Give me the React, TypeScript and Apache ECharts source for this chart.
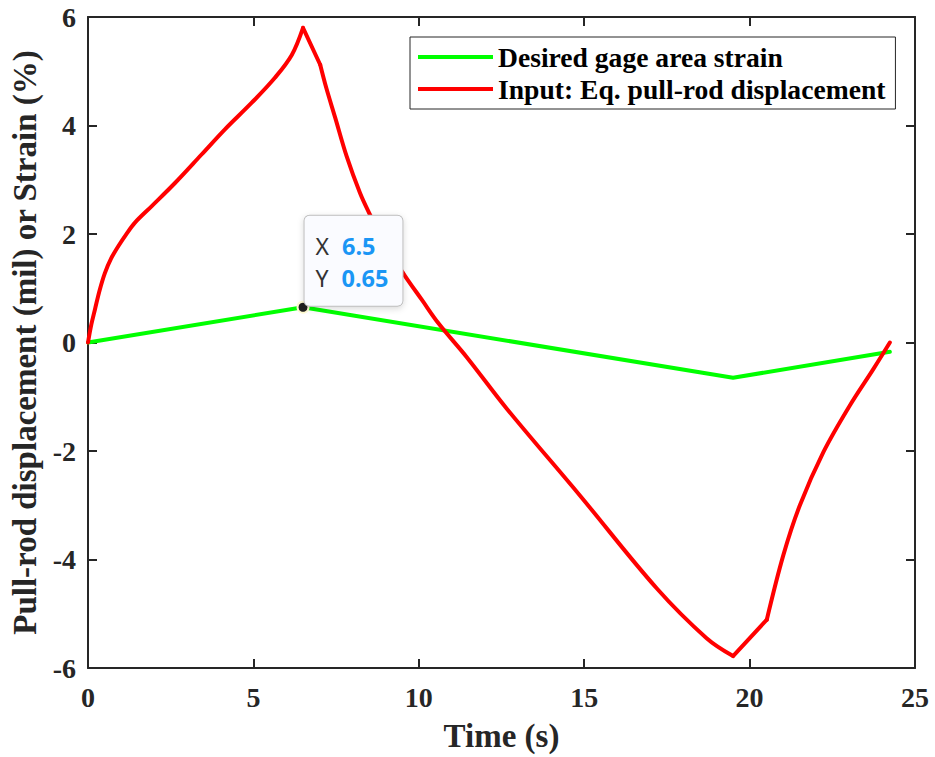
import React, { useEffect, useRef } from 'react';
import * as echarts from 'echarts';

// Desired gage area strain (green)
const strainTime = [0, 6.5, 19.5, 24.24];
const strainValue = [0, 0.65, -0.65, -0.17];

// Input: Eq. pull-rod displacement (red)
const dispTime = [
  0, 0.1, 0.21, 0.35, 0.51, 0.7, 0.92, 1.15, 1.42, 1.92, 2.63, 3.44, 4.14, 4.95, 5.65, 6.16, 6.5,
  7.02, 7.2, 7.47, 7.82, 8.22, 8.52, 9.0, 9.58, 10.1, 10.6, 11.45, 12.66, 14.87, 17.19, 18.7, 19.5,
  20.52, 21.02, 21.52, 22.23, 23.03, 23.74, 24.24,
];
const dispValue = [
  0, 0.33, 0.61, 0.96, 1.28, 1.55, 1.78, 1.99, 2.21, 2.51, 2.94, 3.47, 3.93, 4.42, 4.88, 5.3, 5.8,
  5.12, 4.7, 4.15, 3.43, 2.76, 2.36, 1.77, 1.23, 0.78, 0.35, -0.27, -1.22, -2.82, -4.53, -5.45, -5.78,
  -5.11, -3.92, -3.0, -2.02, -1.16, -0.49, 0,
];
// Times at which the displacement history has sharp corners
const dispCorners = [6.5, 7.02, 19.5, 20.52];

// Data tip
const tipPoint = [6.5, 0.65];

// Axes
const xMin = 0, xMax = 25, xStep = 5;
const yMin = -6, yMax = 6, yStep = 2;

const seriesNames = ['Desired gage area strain', 'Input: Eq. pull-rod displacement'];

export default function App() {
  const ref = useRef<HTMLDivElement>(null);
  useEffect(() => {
    const chart = echarts.init(ref.current!, null, { renderer: 'svg' });
    const serif = 'Liberation Serif';
    const axisColor = '#262626';
    const zip = (xs: number[], ys: number[]) => xs.map((x, i) => [x, ys[i]]);

    const axisLine = { show: true, onZero: false, lineStyle: { color: axisColor, width: 2 } };
    const axisTick = { show: true, inside: true, length: 9, lineStyle: { color: axisColor, width: 2 } };
    const labelStyle = { fontFamily: serif, fontWeight: 'bold', fontSize: 28, color: axisColor };
    const nameStyle = { fontFamily: serif, fontWeight: 'bold', fontSize: 33, color: axisColor };
    const xBase = { type: 'value', min: xMin, max: xMax, interval: xStep, splitLine: { show: false }, axisLine, axisTick };
    const yBase = { type: 'value', min: yMin, max: yMax, interval: yStep, splitLine: { show: false }, axisLine, axisTick };

    // split the red history at its corners: smooth pieces between, straight pieces at kinks
    const redPts = zip(dispTime, dispValue);
    const cornerIdx = dispCorners.map((t) => dispTime.indexOf(t));
    const bounds = [0, ...cornerIdx, dispTime.length - 1];
    const redSeries = bounds.slice(0, -1).map((b, k) => {
      const seg = redPts.slice(b, bounds[k + 1] + 1);
      return {
        name: seriesNames[1],
        type: 'line',
        data: seg,
        symbol: 'none',
        smooth: seg.length > 2 ? 0.35 : false,
        color: '#ff0000',
        lineStyle: { color: '#ff0000', width: 4, cap: 'round', join: 'round' },
        itemStyle: { color: '#ff0000' },
        emphasis: { disabled: true },
        z: 3,
      };
    });

    chart.setOption({
      animation: false,
      backgroundColor: '#ffffff',
      grid: { left: 88, right: 20, top: 17, bottom: 89, containLabel: false, outerBoundsMode: 'none' },
      legend: {
        orient: 'vertical',
        left: 410,
        top: 37,
        padding: [0, 10, 0, 8],
        itemWidth: 75,
        itemHeight: 4,
        itemGap: -8,
        itemTextGap: 8,
        icon: 'rect',
        borderColor: axisColor,
        borderWidth: 1,
        backgroundColor: '#ffffff',
        selectedMode: false,
        textStyle: { fontFamily: serif, fontWeight: 'bold', fontSize: 27.6, color: '#000', lineHeight: 27, padding: [13, 0, 0, 0] },
        data: seriesNames,
      },
      xAxis: [
        {
          ...xBase,
          position: 'bottom',
          axisLabel: { ...labelStyle, margin: 15 },
          name: 'Time (s)',
          nameLocation: 'middle',
          nameGap: 51,
          nameTextStyle: nameStyle,
        },
        { ...xBase, position: 'top', axisLabel: { show: false } },
      ],
      yAxis: [
        {
          ...yBase,
          position: 'left',
          axisLabel: { ...labelStyle, margin: 12 },
          name: 'Pull-rod displacement (mil) or Strain (%)',
          nameLocation: 'middle',
          nameGap: 44,
          nameTextStyle: nameStyle,
        },
        { ...yBase, position: 'right', axisLabel: { show: false } },
      ],
      series: [
        {
          name: seriesNames[0],
          type: 'line',
          data: zip(strainTime, strainValue),
          symbol: 'none',
          color: '#00ff00',
          lineStyle: { color: '#00ff00', width: 4, cap: 'round' },
          itemStyle: { color: '#00ff00' },
          emphasis: { disabled: true },
          z: 2,
          markPoint: {
            symbol: 'circle',
            symbolSize: 11,
            itemStyle: { color: '#1f1f1f', borderColor: '#fffad2', borderWidth: 2 },
            emphasis: { disabled: true },
            label: {
              show: true,
              position: [8, 5],
              align: 'left',
              verticalAlign: 'bottom',
              formatter: (p: any) => `{k|X}{v|${p.data.coord[0]}}\n{k|Y}{v|${p.data.coord[1]}}`,
              backgroundColor: '#fafbff',
              borderColor: '#bcbcbc',
              borderWidth: 1,
              borderRadius: 5,
              padding: [14, 14, 12, 11],
              shadowColor: 'rgba(0,0,0,0.15)',
              shadowBlur: 6,
              shadowOffsetY: 2,
              rich: {
                k: { fontFamily: 'Noto Sans', fontSize: 23, color: '#333', lineHeight: 32 },
                v: { fontFamily: 'Noto Sans', fontSize: 23.5, fontWeight: 'bold', color: '#1a96f5', lineHeight: 32, padding: [0, 0, 0, 13] },
              },
            },
            data: [{ coord: tipPoint }],
          },
        },
        ...redSeries,
      ],
    });
    return () => chart.dispose();
  }, []);
  return <div ref={ref} style={{ position: 'fixed', left: 0, top: 0, width: 935, height: 757, background: '#fff' }} />;
}
